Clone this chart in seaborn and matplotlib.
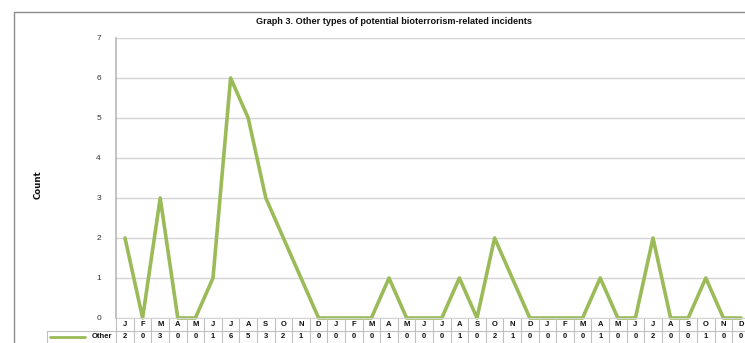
import matplotlib
matplotlib.use("Agg")
import matplotlib.pyplot as plt
from matplotlib.lines import Line2D
import seaborn as sns
import pandas as pd
import numpy as np

# Monthly counts, three years (last December is at the chart's right edge)
months = ["J", "F", "M", "A", "M", "J", "J", "A", "S", "O", "N", "D"] * 3
other_counts = [2, 0, 3, 0, 0, 1, 6, 5, 3, 2, 1, 0,
                0, 0, 0, 1, 0, 0, 0, 1, 0, 2, 1, 0,
                0, 0, 0, 1, 0, 0, 2, 0, 0, 1, 0, 0]
series_name = "Other"
title = "Graph 3. Other types of potential bioterrorism-related incidents"
y_label = "Count"
y_ticks = [0, 1, 2, 3, 4, 5, 6, 7]

df = pd.DataFrame({"idx": np.arange(len(other_counts)), "count": other_counts})

sns.set_style("white")
plt.rcParams["font.family"] = ["Liberation Sans", "DejaVu Sans"]

W, H = 745, 343
fig = plt.figure(figsize=(W / 100, H / 100), dpi=100)

def fx(px):
    return px / W

def fy(py):
    return 1 - py / H

# Plot area: left edge at 116px, top (7) at 38px, bottom (0) at 318px; runs past the right edge
ax_left, ax_top, ax_bottom = 116.2, 38, 318
cell_w = 17.6
ax_width = cell_w * len(other_counts)
ax = fig.add_axes([fx(ax_left), fy(ax_bottom), ax_width / W, (ax_bottom - ax_top) / H])

green = "#9BBB59"
sns.lineplot(data=df, x="idx", y="count", ax=ax, color=green, linewidth=2.6,
             legend=False, clip_on=False)

ax.set_xlim(-0.5, len(other_counts) - 0.5)
ax.set_ylim(0, 7)
ax.set_yticks(y_ticks)
ax.set_yticklabels([str(t) for t in y_ticks], fontsize=6, color="#333333")
ax.tick_params(axis="y", length=3, width=0.8, color="#aaaaaa", pad=8)
ax.set_xticks([])
ax.set_xlabel("")
ax.set_ylabel("")
ax.yaxis.grid(True, color="#d4d4d4", linewidth=1.0)
ax.set_axisbelow(True)
for side in ["top", "right", "bottom"]:
    ax.spines[side].set_visible(False)
ax.spines["left"].set_color("#b8b8b8")
ax.spines["left"].set_linewidth(1.2)

# Title and y label
fig.text(fx(394), fy(21), title, ha="center", va="center", fontsize=6.6,
         fontweight="bold", color="#111111")
fig.text(fx(38), fy(185), y_label, ha="center", va="center", fontsize=6.2,
         fontweight="bold", rotation=90, color="#111111", family="Liberation Sans Narrow")

# Outer chart frame
frame_col = "#8c8c8c"
fig.add_artist(Line2D([fx(14), fx(14)], [fy(12), 0], transform=fig.transFigure,
                      color=frame_col, linewidth=1.0))
fig.add_artist(Line2D([fx(14), 1], [fy(12), fy(12)], transform=fig.transFigure,
                      color=frame_col, linewidth=1.0))

# Data table under the plot
trans = ax.get_xaxis_transform()
plot_h = ax_bottom - ax_top

def ay(py):
    return (ax_bottom - py) / plot_h

row1_top, row_mid, row2_bot = 318, 331, 342.5
grid_col = "#c0c0c0"
n = len(other_counts)
for i in range(n + 1):
    x = i - 0.5
    ax.add_line(Line2D([x, x], [ay(row1_top), ay(row2_bot)], transform=trans,
                       color=grid_col, linewidth=0.8, clip_on=False))
for py in (row_mid, row2_bot):
    ax.add_line(Line2D([-0.5, n - 0.5], [ay(py), ay(py)], transform=trans,
                       color=grid_col, linewidth=0.8, clip_on=False))
ax.add_line(Line2D([-0.5, n - 0.5], [ay(row1_top), ay(row1_top)], transform=trans,
                   color="#d4d4d4", linewidth=0.8, clip_on=False))

for i, (m, v) in enumerate(zip(months, other_counts)):
    ax.text(i, ay((row1_top + row_mid) / 2), m, transform=trans, ha="center",
            va="center", fontsize=5.5, fontweight="bold", color="#111111", clip_on=False)
    ax.text(i, ay((row_mid + row2_bot) / 2), str(v), transform=trans, ha="center",
            va="center", fontsize=5.5, fontweight="bold", color="#111111", clip_on=False)

# Legend cell for the series row
leg_left = 47
fig.add_artist(Line2D([fx(leg_left), fx(ax_left)], [fy(row_mid), fy(row_mid)],
                      transform=fig.transFigure, color=grid_col, linewidth=0.8))
fig.add_artist(Line2D([fx(leg_left), fx(ax_left)], [fy(row2_bot), fy(row2_bot)],
                      transform=fig.transFigure, color=grid_col, linewidth=0.8))
fig.add_artist(Line2D([fx(leg_left), fx(leg_left)], [fy(row_mid), fy(row2_bot)],
                      transform=fig.transFigure, color=grid_col, linewidth=0.8))
fig.add_artist(Line2D([fx(50), fx(85)], [fy(336.5), fy(336.5)],
                      transform=fig.transFigure, color=green, linewidth=2.0))
fig.text(fx(112), fy(336.5), series_name, ha="right", va="center", fontsize=5.5,
         fontweight="bold", color="#111111")

fig.savefig("out.png", dpi=100)
